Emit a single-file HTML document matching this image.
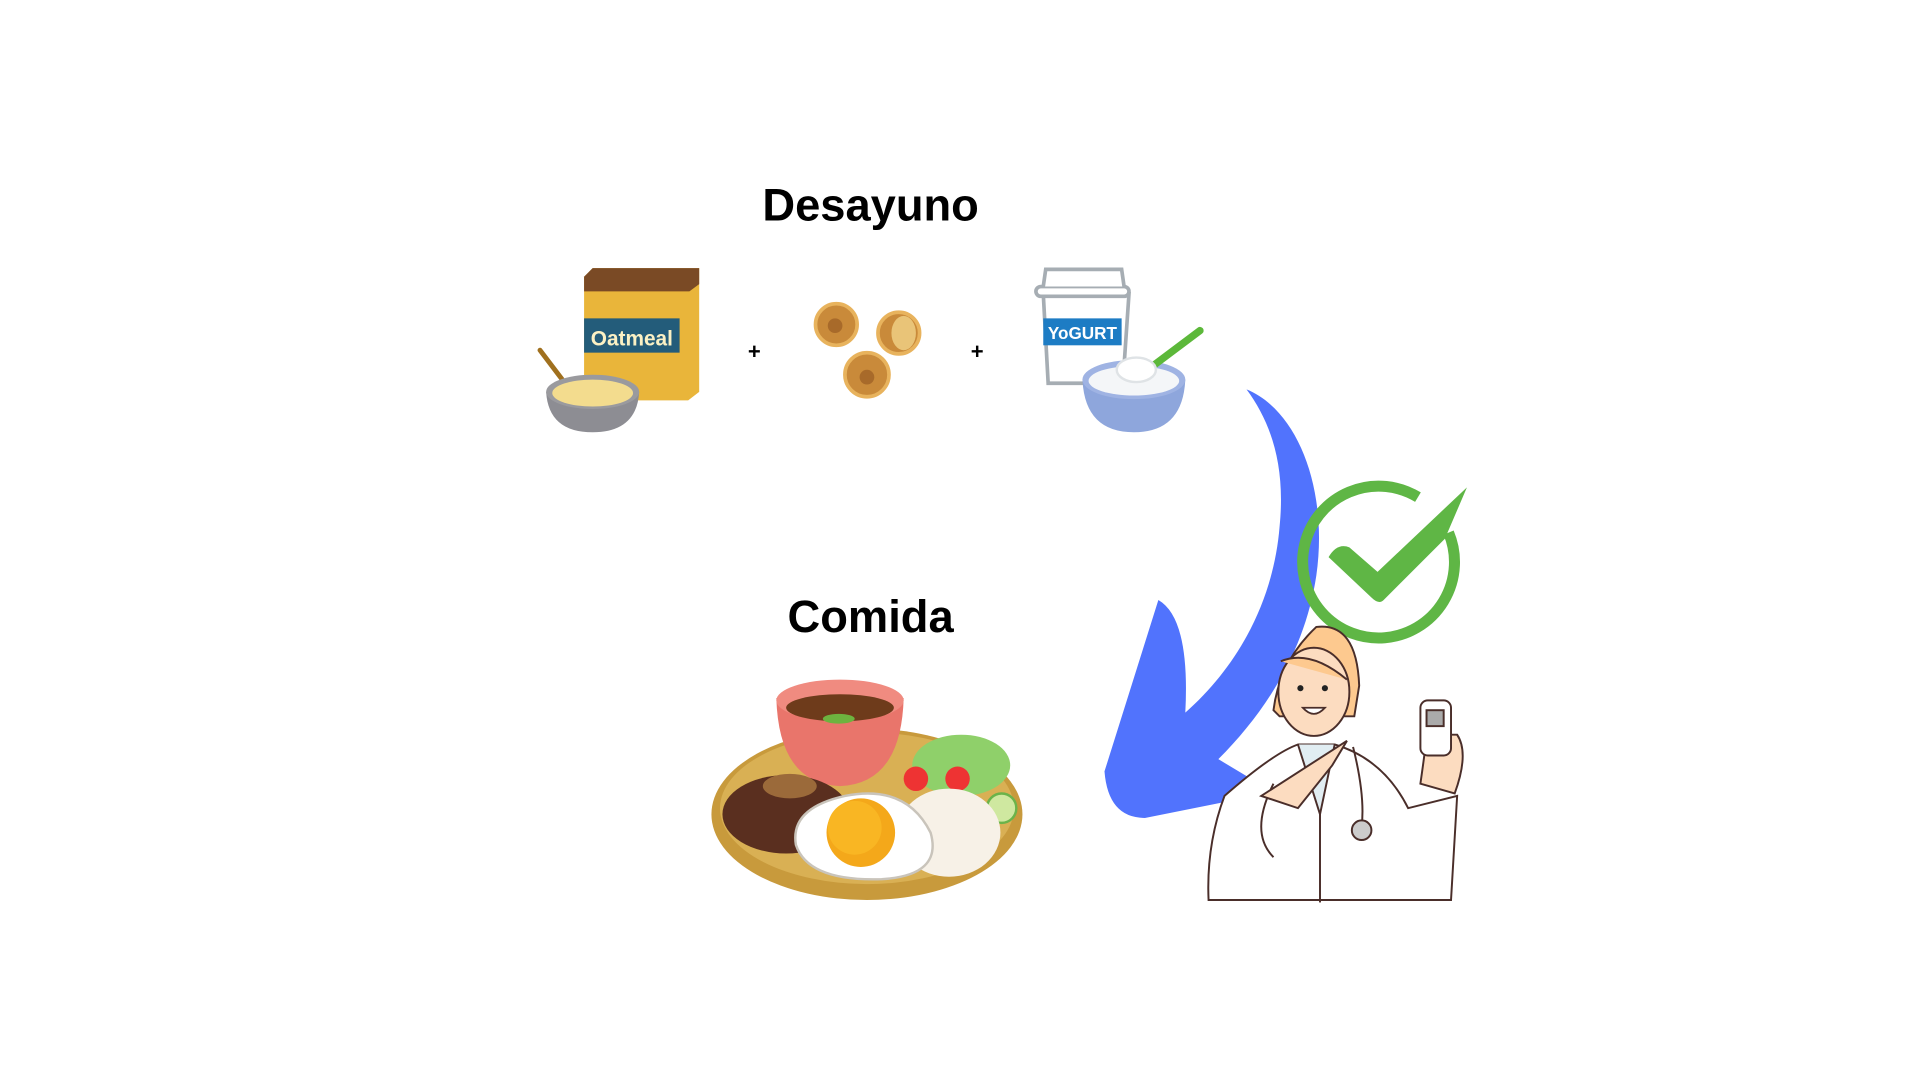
<!DOCTYPE html>
<html><head><meta charset="utf-8"><style>
html,body{margin:0;padding:0;background:#fff;width:1920px;height:1080px;overflow:hidden}
svg{display:block}
</style></head><body>
<svg width="1920" height="1080" viewBox="0 0 1568 882" xmlns="http://www.w3.org/2000/svg">
<rect width="1568" height="882" fill="#fff"/>
<text x="711" y="180" text-anchor="middle" font-family="Liberation Sans, sans-serif" font-weight="bold" font-size="37" fill="#000">Desayuno</text>
<text x="711" y="516" text-anchor="middle" font-family="Liberation Sans, sans-serif" font-weight="bold" font-size="37" fill="#000">Comida</text>
<text x="616" y="293" text-anchor="middle" font-family="Liberation Sans, sans-serif" font-weight="bold" font-size="18">+</text>
<text x="798" y="293" text-anchor="middle" font-family="Liberation Sans, sans-serif" font-weight="bold" font-size="18">+</text>

<!-- oatmeal box -->
<polygon points="477,226 484,219 571,219 571,320 562,327 477,327" fill="#e9b53a"/>
<polygon points="477,226 484,219 571,219 571,232 563,238 477,238" fill="#7a4a25"/>
<rect x="477" y="260" width="78" height="28" fill="#235c7a"/>
<text x="516" y="282" text-anchor="middle" font-family="Liberation Sans, sans-serif" font-weight="bold" font-size="17" fill="#fbf1c4">Oatmeal</text>
<line x1="441" y1="286" x2="463" y2="315" stroke="#a0701e" stroke-width="4" stroke-linecap="round"/>
<path d="M446,320 Q448,353 484,353 Q520,353 522,320 Z" fill="#8d8d93"/>
<ellipse cx="484" cy="320" rx="38" ry="14" fill="#9a9a9e"/>
<ellipse cx="484" cy="321" rx="33" ry="11" fill="#f3dc8e"/>

<!-- walnuts -->
<g fill="#c98a3a" stroke="#e8b35d" stroke-width="3">
<circle cx="683" cy="265" r="17"/>
<circle cx="734" cy="272" r="17"/>
<circle cx="708" cy="306" r="18"/>
</g>
<g fill="#a86a2a"><circle cx="682" cy="266" r="6"/><circle cx="708" cy="308" r="6"/></g>
<ellipse cx="738" cy="272" rx="10" ry="14" fill="#e9c478"/>

<!-- yogurt -->
<path d="M852,240 L922,240 L917,313 L856,313 Z" fill="#fff" stroke="#a6adb3" stroke-width="3"/>
<rect x="846" y="234" width="76" height="8" rx="4" fill="#fff" stroke="#a6adb3" stroke-width="3"/>
<path d="M852,234 L854,220 L916,220 L918,234" fill="#fff" stroke="#a6adb3" stroke-width="3"/>
<rect x="852" y="260" width="64" height="22" fill="#1d7cc4"/>
<text x="884" y="277" text-anchor="middle" font-family="Liberation Sans, sans-serif" font-weight="bold" font-size="14" fill="#fff">YoGURT</text>
<path d="M884,310 Q886,353 926,353 Q966,353 968,310 Z" fill="#8ea6dc"/>
<ellipse cx="926" cy="310" rx="42" ry="16" fill="#9fb3e3"/>
<ellipse cx="926" cy="311" rx="37" ry="12" fill="#f4f6f8"/>
<line x1="940" y1="300" x2="980" y2="270" stroke="#5cb83a" stroke-width="6" stroke-linecap="round"/>
<ellipse cx="928" cy="302" rx="16" ry="10" fill="#fff" stroke="#dfe3e6" stroke-width="2"/>

<!-- blue arrow -->
<path d="M1018,318 C1060,335 1085,400 1075,470 C1066,530 1035,580 995,620 L1040,647 L935,668 Q905,668 902,630 L946,490 Q972,505 968,582 C1010,545 1040,492 1045,430 C1050,380 1038,345 1018,318 Z" fill="#5173fd"/>

<!-- check -->
<path d="M1158,406 A62,62 0 1 0 1183,435" fill="none" stroke="#5fb645" stroke-width="9"/>
<path d="M1085,455 Q1092,443 1102,447 L1125,467 L1198,398 L1180,440 L1130,490 Q1126,494 1120,488 Z" fill="#5fb645"/>

<!-- doctor -->
<g stroke="#4a2e2a" stroke-width="1.6" fill="none">
<path d="M1040,580 Q1045,540 1075,512 Q1108,508 1110,560 L1106,585 L1045,585 Z" fill="#fdc98f"/>
<ellipse cx="1073" cy="565" rx="29" ry="36" fill="#fcdcc0"/>
<path d="M1046,540 Q1070,530 1100,555" fill="#fdc98f"/>
<path d="M1000,650 Q1040,615 1060,608 L1090,608 Q1130,620 1150,660 L1190,650 L1185,735 L987,735 Q985,690 1000,650 Z" fill="#fff"/>
<path d="M1060,608 L1078,665 L1090,608" fill="#e1edf2"/>
<line x1="1078" y1="665" x2="1078" y2="737"/>
<path d="M1040,640 Q1020,680 1040,700 M1105,610 Q1115,650 1112,675"/>
<circle cx="1112" cy="678" r="8" fill="#ccc"/>
<path d="M1030,650 L1100,605 L1088,625 L1060,660 Z" fill="#fcdcc0"/>
<path d="M1160,640 Q1165,605 1165,600 L1190,600 Q1200,615 1188,648 Z" fill="#fcdcc0"/>
<rect x="1160" y="572" width="25" height="45" rx="6" fill="#fff"/>
<rect x="1165" y="580" width="14" height="13" fill="#aaa"/>
</g>
<g fill="#222"><circle cx="1062" cy="562" r="2.5"/><circle cx="1082" cy="562" r="2.5"/></g>
<path d="M1064,578 Q1073,588 1082,578 Z" fill="#fff" stroke="#4a2e2a" stroke-width="1.5"/>

<!-- plate -->
<ellipse cx="708" cy="665" rx="127" ry="70" fill="#c89a3c"/>
<ellipse cx="708" cy="660" rx="120" ry="62" fill="#d9b054"/>
<ellipse cx="785" cy="625" rx="40" ry="25" fill="#8fd06a"/>
<circle cx="748" cy="636" r="10" fill="#e33"/><circle cx="782" cy="636" r="10" fill="#e33"/>
<circle cx="818" cy="660" r="12" fill="#cfe8a0" stroke="#6bb34a" stroke-width="2"/>
<path d="M634,570 Q636,640 686,642 Q736,640 738,570 Z" fill="#e9756b"/>
<ellipse cx="686" cy="572" rx="52" ry="17" fill="#f08b80"/>
<ellipse cx="686" cy="578" rx="44" ry="11" fill="#6e3b1b"/>
<ellipse cx="685" cy="587" rx="13" ry="4" fill="#6db33f"/>
<ellipse cx="642" cy="665" rx="52" ry="32" fill="#5a2f1f"/>
<ellipse cx="645" cy="642" rx="22" ry="10" fill="#9b6a3a"/>
<ellipse cx="775" cy="680" rx="42" ry="36" fill="#f7f1e7"/>
<path d="M650,690 Q645,660 690,650 Q740,640 760,680 Q770,715 720,718 Q660,720 650,690 Z" fill="#fff" stroke="#c9c4bb" stroke-width="2"/>
<circle cx="703" cy="680" r="28" fill="#f4a81a"/>
<circle cx="698" cy="676" r="22" fill="#f9b623"/>
</svg>
</body></html>
